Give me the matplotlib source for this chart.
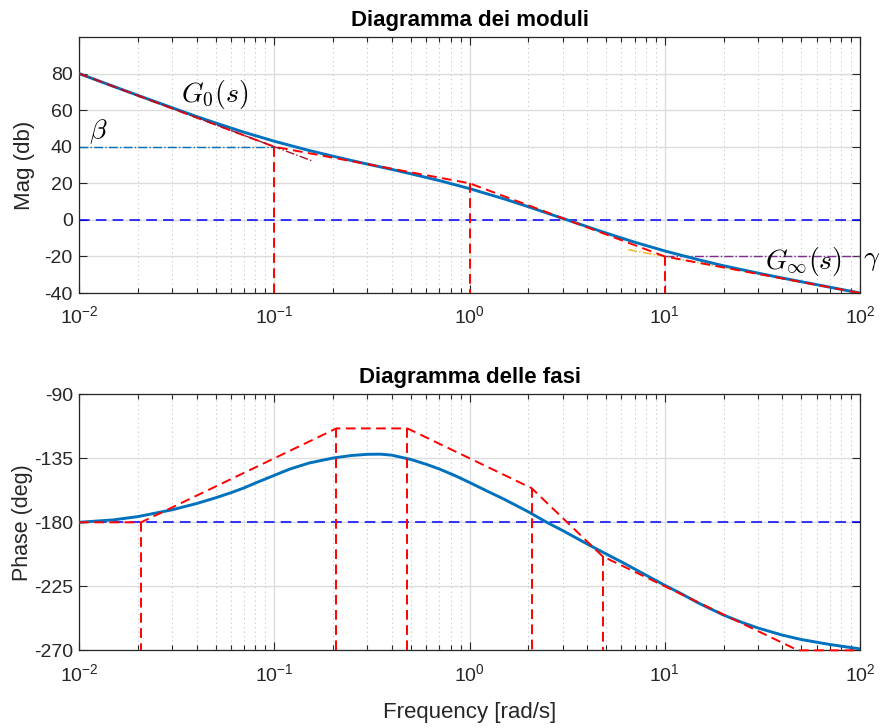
import numpy as np
import matplotlib
matplotlib.use('Agg')
import matplotlib.pyplot as plt
from matplotlib.ticker import LogLocator, FixedLocator, NullFormatter

plt.rcParams['font.family'] = ['Liberation Sans', 'DejaVu Sans']
plt.rcParams['mathtext.fontset'] = 'cm'
plt.rcParams['axes.unicode_minus'] = False

# exact response
w_mag = [0.01, 0.015, 0.02, 0.03, 0.04, 0.05, 0.07, 0.1, 0.15, 0.2, 0.25, 0.3, 0.4, 0.5,
         0.7, 1, 1.5, 2, 3, 4, 5, 7, 10, 15, 20, 30, 40, 50, 70, 100]
mag_db = [80.0, 73.0, 68.1, 61.3, 56.5, 53.0, 47.9, 43.0, 38.0, 34.8, 32.4, 30.5, 27.6,
          25.2, 21.5, 17.1, 11.5, 7.2, 0.8, -3.7, -7.2, -12.2, -17.0, -21.9, -25.1,
          -29.1, -31.8, -33.8, -36.8, -40.0]

w_ph = [0.01, 0.015, 0.02, 0.03, 0.04, 0.05, 0.06, 0.07, 0.08, 0.1, 0.12, 0.15, 0.2,
        0.25, 0.3, 0.35, 0.4, 0.5, 0.6, 0.7, 0.85, 1, 1.25, 1.5, 2, 2.5, 3, 4, 5, 6,
        7.5, 10, 12, 15, 20, 25, 30, 40, 50, 70, 100]
phase_deg = [-180, -178.3, -176, -171.2, -166.8, -162.8, -159.2, -155.8, -152.4, -147.0,
             -142.6, -138.4, -134.8, -133.0, -132.2, -132.1, -132.8, -135.8, -139.2,
             -142.5, -147.4, -152, -158.5, -163.7, -172.6, -180.2, -185.8, -195.2,
             -202.2, -207.8, -215.0, -224.3, -229.8, -237.0, -245.2, -250.5, -254.3,
             -259.3, -262.4, -265.9, -269.0]

# asymptotic magnitude
mag_asym_w = [0.01, 0.1, 1, 10, 100]
mag_asym_db = [80, 40, 20, -20, -40]
mag_vert_w = [0.1, 1, 10]
mag_vert_top = [40, 20, -20]

# helper asymptotes
g0_w = [0.01, 0.155]
g0_db = [80, 32.4]
ginf_w = [6.5, 100]
ginf_db = [-16.3, -40]
beta_w = [0.01, 0.1]
beta_db = [40, 40]
gamma_w = [10, 100]
gamma_db = [-20, -20]

# asymptotic phase
ph_asym_w = [0.01, 0.0208, 0.208, 0.481, 2.08, 4.81, 48.1, 100]
ph_asym = [-180, -180, -114, -114, -156, -204, -270, -270]
ph_vert_w = [0.0208, 0.208, 0.481, 2.08, 4.81]
ph_vert_top = [-180, -114, -114, -156, -204]

blue = '#0072BD'
axcol = '#262626'

fig = plt.figure(figsize=(8.88, 7.28), dpi=100)
ax1 = fig.add_axes([0.089, 0.5975, 0.8795, 0.3517])
ax2 = fig.add_axes([0.089, 0.1067, 0.8795, 0.3517])


def style(ax):
    ax.set_xscale('log')
    ax.set_xlim(0.01, 100)
    ax.xaxis.set_major_locator(LogLocator(base=10, numticks=10))
    ax.xaxis.set_minor_locator(LogLocator(base=10, subs=np.arange(2, 10), numticks=20))
    ax.xaxis.set_minor_formatter(NullFormatter())
    ax.grid(True, which='major', color='#DCDCDC', linewidth=1.0, linestyle='-')
    ax.grid(True, which='minor', axis='x', color='#C4C4C4', linewidth=0.8, linestyle=(0, (1, 3)))
    ax.set_axisbelow(True)
    ax.tick_params(which='both', direction='in', top=True, right=True, colors=axcol,
                   labelsize=14, width=0.8)
    ax.tick_params(axis='y', pad=4.5)
    ax.tick_params(axis='x', pad=9)
    ax.tick_params(which='major', length=6)
    ax.tick_params(which='minor', length=3.5)
    for sp in ax.spines.values():
        sp.set_color(axcol)
        sp.set_linewidth(0.9)


style(ax1)
style(ax2)

# --- magnitude ---
ax1.plot(w_mag, mag_db, color=blue, linewidth=2.1, zorder=3)
ax1.plot(mag_asym_w, mag_asym_db, color='red', linewidth=1.4, dashes=(5, 2.8), zorder=4)
for xv, yt in zip(mag_vert_w, mag_vert_top):
    ax1.plot([xv, xv], [yt, -40], color='red', linewidth=1.4, dashes=(5, 2.8), zorder=4)
ax1.axhline(0, color='blue', linewidth=1.1, dashes=(7, 4), zorder=2)
ax1.plot(beta_w, beta_db, color=blue, linewidth=1.0, linestyle='-.', zorder=2)
ax1.plot(gamma_w, gamma_db, color='#7E2F8E', linewidth=1.0, linestyle='-.', zorder=2)
ax1.plot(g0_w, g0_db, color='#A2142F', linewidth=1.0, linestyle='-.', zorder=5)
ax1.plot(ginf_w, ginf_db, color='#EDB120', linewidth=1.0, linestyle='-.', zorder=2)

ax1.text(0.0497, 68.5, r'$G_0(s)$', fontsize=20, ha='center', va='center')
ax1.text(0.0126, 48.5, r'$\beta$', fontsize=20, ha='center', va='center')
ax1.text(51.6, -22.5, r'$G_\infty(s)$', fontsize=20, ha='center', va='center')
ax1.text(115, -22, r'$\gamma$', fontsize=20, ha='center', va='center', clip_on=False)

ax1.set_ylim(-40, 100)
ax1.yaxis.set_major_locator(FixedLocator([-40, -20, 0, 20, 40, 60, 80]))
ax1.set_ylabel('Mag (db)', fontsize=16, color=axcol)
ax1.yaxis.set_label_coords(-0.0565, 0.5)
ax1.set_title('Diagramma dei moduli', fontsize=16, fontweight='bold', pad=8)

# --- phase ---
ax2.plot(w_ph, phase_deg, color=blue, linewidth=2.1, zorder=3)
ax2.plot(ph_asym_w, ph_asym, color='red', linewidth=1.4, dashes=(5, 2.8), zorder=4,
         clip_on=False)
for xv, yt in zip(ph_vert_w, ph_vert_top):
    ax2.plot([xv, xv], [yt, -270], color='red', linewidth=1.4, dashes=(5, 2.8), zorder=4)
ax2.axhline(-180, color='blue', linewidth=1.1, dashes=(7, 4), zorder=2)

ax2.set_ylim(-270, -90)
ax2.yaxis.set_major_locator(FixedLocator([-270, -225, -180, -135, -90]))
ax2.set_ylabel('Phase (deg)', fontsize=15.5, color=axcol)
ax2.yaxis.set_label_coords(-0.0585, 0.5)
ax2.set_xlabel('Frequency [rad/s]', fontsize=16, color=axcol)
ax2.xaxis.set_label_coords(0.5, -0.2)
ax2.set_title('Diagramma delle fasi', fontsize=16, fontweight='bold', pad=8)

fig.savefig('out.png', dpi=100)
